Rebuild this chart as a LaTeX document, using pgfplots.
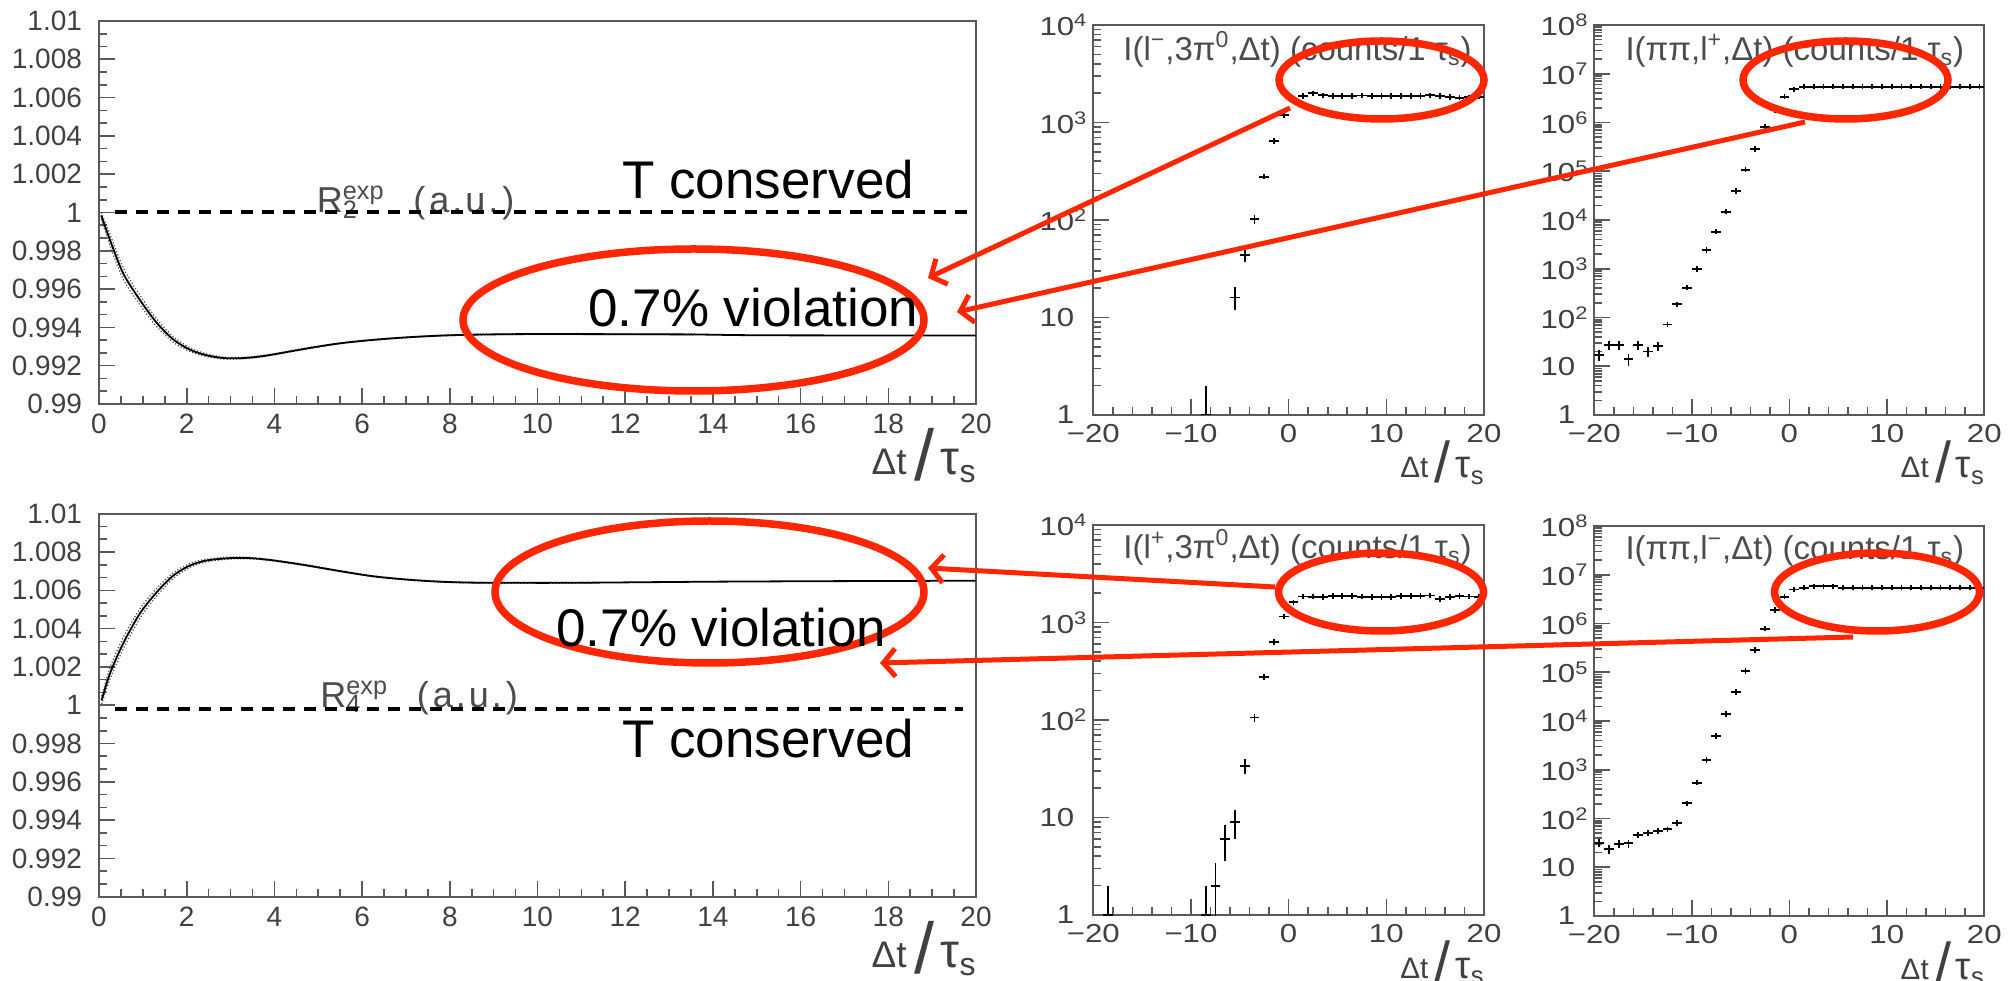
\documentclass[border=0pt]{standalone}
\usepackage{pgfplots}
\pgfplotsset{compat=1.18}
\usepackage{pgfplotstable}
\usepackage{fontspec}
\setmainfont{Liberation Sans}
\newfontfamily\rootw[FakeStretch=1.2]{Liberation Sans}
\usetikzlibrary{arrows.meta}
\definecolor{kred}{RGB}{255,38,0}

% Delta t / tau_s axis label, ROOT style
\newcommand\dtts{{\fontsize{18.5}{18.5}\selectfont Δt}\hspace{4pt}\raisebox{-3pt}{\fontsize{36}{36}\selectfont /}\hspace{3pt}{\fontsize{24}{24}\selectfont τ}\raisebox{-4pt}{\fontsize{16}{16}\selectfont s}}
\newcommand\dttsS{\scalebox{0.8}{\dtts}}
\newcommand\ttl[1]{{\fontsize{16.5}{16.5}\selectfont #1}}
\newcommand\lf{\fontsize{14}{14}\selectfont}
\newcommand\cf{\rootw\fontsize{13}{13}\selectfont}
\newcommand\ex[1]{\cf 10\rlap{\textsuperscript{#1}}}

\pgfplotsset{
  rootframe/.style={scale only axis, clip mode=individual,
    axis line style={black!65,line width=0.9pt},
    tick style={black!65,line width=0.8pt}, tick pos=left, tick align=inside,
    major tick length=8pt, minor tick length=4pt, clip marker paths=true},
  ratioframe/.style={rootframe, width=438.5pt, height=191.5pt,
    xmin=0, xmax=20, ymin=0.99, ymax=1.01,
    xtick={0,2,4,6,8,10,12,14,16,18,20},
    xticklabels={\lf 0,\lf 2,\lf 4,\lf 6,\lf 8,\lf 10,\lf 12,\lf 14,\lf 16,\lf 18,\lf 20},
    minor x tick num=3,
    ytick={0.99,0.992,0.994,0.996,0.998,1,1.002,1.004,1.006,1.008,1.01},
    yticklabels={\lf 0.99,\lf 0.992,\lf 0.994,\lf 0.996,\lf 0.998,\lf 1,\lf 1.002,\lf 1.004,\lf 1.006,\lf 1.008,\lf 1.01},
    minor y tick num=2,
    xticklabel style={text=black!75, yshift=-1.5pt},
    yticklabel style={text=black!75, xshift=-5pt}},
  countframe/.style={rootframe, width=195pt, height=195pt,
    xmin=-20, xmax=20,
    xtick={-20,-10,0,10,20}, xticklabels={\cf −20,\cf −10,\cf 0,\cf 10,\cf 20},
    minor x tick num=4,
    xticklabel style={text=black!75, yshift=-1pt},
    yticklabel style={text=black!75, xshift=-6pt}},
}

% R2 (top left)
\pgfplotstableread{
x y
0.05 0.99985
0.25 0.99857
0.55 0.99683
0.93 0.99544
1.32 0.99423
1.70 0.99336
2.08 0.99283
2.46 0.99254
2.84 0.99240
3.22 0.99239
3.60 0.99246
3.98 0.99259
4.74 0.99290
5.50 0.99317
6.26 0.99335
7.02 0.99348
7.78 0.99357
8.54 0.99362
9.68 0.99365
11.0 0.99365
12.5 0.99364
13.6 0.99363
15.0 0.99359
17.5 0.99358
20.0 0.99358
}\rtwo
\pgfplotstableread{
x lo hi
0.05 0.99965 1.00000
0.25 0.99827 0.99887
0.55 0.99653 0.99713
0.93 0.99519 0.99569
1.32 0.99403 0.99443
1.70 0.99321 0.99351
2.08 0.99273 0.99293
2.46 0.99247 0.99261
2.84 0.99235 0.99245
3.22 0.99235 0.99243
3.60 0.99242 0.99250
3.98 0.99256 0.99262
4.74 0.99287 0.99293
5.50 0.99315 0.99319
6.26 0.99333 0.99337
7.02 0.99346 0.99350
7.78 0.99355 0.99359
8.54 0.99360 0.99364
9.68 0.99363 0.99367
11.0 0.99363 0.99367
12.5 0.99362 0.99366
13.6 0.99361 0.99365
}\rtwoband

% R4 (bottom left)
\pgfplotstableread{
x y
0.06 1.00026
0.25 1.00165
0.55 1.00322
0.93 1.00478
1.32 1.00591
1.70 1.00678
2.08 1.00730
2.46 1.00756
2.99 1.00768
3.44 1.00768
3.98 1.00756
4.74 1.00730
5.50 1.00700
6.26 1.00673
7.02 1.00656
7.78 1.00645
8.54 1.00640
9.68 1.00639
10.5 1.00639
11.3 1.00640
14.0 1.00645
17.0 1.00648
20.0 1.00650
}\rfour
\pgfplotstableread{
x lo hi
0.06 1.00006 1.00046
0.25 1.00135 1.00195
0.55 1.00292 1.00352
0.93 1.00453 1.00503
1.32 1.00571 1.00611
1.70 1.00663 1.00693
2.08 1.00720 1.00740
2.46 1.00749 1.00763
2.99 1.00763 1.00773
3.44 1.00764 1.00772
3.98 1.00753 1.00759
4.74 1.00727 1.00733
5.50 1.00698 1.00702
6.26 1.00671 1.00675
7.02 1.00654 1.00658
7.78 1.00643 1.00647
8.54 1.00638 1.00642
9.68 1.00637 1.00641
10.5 1.00637 1.00641
11.3 1.00638 1.00642
}\rfourband

% I(l-,3pi0) top middle
\pgfplotstableread{
x y ep em
-8.5 1 1 0
-5.5 16 4.5 4.2
-4.5 44 6.6 6.6
-3.5 102 10 10
-2.5 278 17 17
-1.5 646 25 25
-0.5 1194 35 35
0.5 1650 41 41
1.5 1880 43 43
2.5 1990 45 45
3.5 1900 44 44
4.5 1860 43 43
5.5 1880 43 43
6.5 1870 43 43
7.5 1890 43 43
8.5 1875 43 43
9.5 1880 43 43
10.5 1870 43 43
11.5 1860 43 43
12.5 1880 43 43
13.5 1860 43 43
14.5 1900 44 44
15.5 1880 43 43
16.5 1830 43 43
17.5 1800 42 42
18.5 1810 43 43
19.5 1840 43 43
}\tm

% I(l+,3pi0) bottom middle
\pgfplotstableread{
x y ep em
-18.5 1 1 0
-8.5 1 1 0
-7.5 2 1.4 1.4
-6.5 6 2.4 2.4
-5.5 9 3 3
-4.5 34 5.8 5.8
-3.5 106 10 10
-2.5 278 17 17
-1.5 630 25 25
-0.5 1150 34 34
0.5 1610 40 40
1.5 1850 43 43
2.5 1840 43 43
3.5 1820 43 43
4.5 1870 43 43
5.5 1880 43 43
6.5 1870 43 43
7.5 1840 43 43
8.5 1830 43 43
9.5 1820 43 43
10.5 1830 43 43
11.5 1860 43 43
12.5 1880 43 43
13.5 1870 43 43
14.5 1890 43 43
15.5 1750 42 42
16.5 1830 43 43
17.5 1870 43 43
18.5 1850 43 43
19.5 1830 43 43
}\bm

% I(pipi,l+) top right
\pgfplotstableread{
x y ep em
-19.5 17 4.1 4.1
-18.5 27 5.2 5.2
-17.5 27 5.2 5.2
-16.5 14 3.7 3.7
-15.5 27 5.2 5.2
-14.5 20 4.5 4.5
-13.5 26 5.1 5.1
-12.5 72 8.5 8.5
-11.5 186 13.6 13.6
-10.5 409 20.2 20.2
-9.5 988 31.4 31.4
-8.5 2390 48.9 48.9
-7.5 5770 76 76
-6.5 14800 122 122
-5.5 39300 198 198
-4.5 108000 329 329
-3.5 286000 535 535
-2.5 810000 900 900
-1.5 1780000 1334 1334
-0.5 3390000 1841 1841
0.5 4790000 2189 2189
1.5 5430000 2330 2330
2.5 5430000 2330 2330
3.5 5430000 2330 2330
4.5 5430000 2330 2330
5.5 5430000 2330 2330
6.5 5430000 2330 2330
7.5 5430000 2330 2330
8.5 5430000 2330 2330
9.5 5430000 2330 2330
10.5 5430000 2330 2330
11.5 5430000 2330 2330
12.5 5430000 2330 2330
13.5 5430000 2330 2330
14.5 5430000 2330 2330
15.5 5430000 2330 2330
16.5 5430000 2330 2330
17.5 5430000 2330 2330
18.5 5430000 2330 2330
19.5 5430000 2330 2330
}\tr

% I(pipi,l-) bottom right
\pgfplotstableread{
x y ep em
-19.5 32 5.7 5.7
-18.5 24 4.9 4.9
-17.5 30 5.5 5.5
-16.5 31 5.6 5.6
-15.5 46 6.8 6.8
-14.5 51 7.1 7.1
-13.5 56 7.5 7.5
-12.5 60 7.7 7.7
-11.5 80 8.9 8.9
-10.5 205 14.3 14.3
-9.5 543 23 23
-8.5 1585 40 40
-7.5 4925 70 70
-6.5 13900 118 118
-5.5 39300 198 198
-4.5 106000 326 326
-3.5 290000 539 539
-2.5 784000 885 885
-1.5 1890000 1375 1375
-0.5 3550000 1884 1884
0.5 5000000 2236 2236
1.5 5430000 2330 2330
2.5 5780000 2404 2404
3.5 5780000 2404 2404
4.5 5780000 2404 2404
5.5 5430000 2330 2330
6.5 5430000 2330 2330
7.5 5430000 2330 2330
8.5 5430000 2330 2330
9.5 5430000 2330 2330
10.5 5430000 2330 2330
11.5 5430000 2330 2330
12.5 5430000 2330 2330
13.5 5430000 2330 2330
14.5 5430000 2330 2330
15.5 5430000 2330 2330
16.5 5430000 2330 2330
17.5 5430000 2330 2330
18.5 5430000 2330 2330
19.5 5430000 2330 2330
}\br

\begin{document}
\begin{tikzpicture}
\fill[white] (0,0) rectangle (1006.5pt,490pt);
\path[use as bounding box] (0,0) rectangle (1006.5pt,490pt);

% ---- top left: R2
\begin{axis}[ratioframe, at={(49.5pt,288pt)}, anchor=south west]
  \node[anchor=base west, inner sep=0, text=black!70, font=\fontsize{18}{18}\selectfont]
    at (axis cs:4.96,1) {R\rlap{\textsubscript{2}}\textsuperscript{exp}\hspace{0.8em}(\kern2pt a\kern1.5pt.\kern1.5pt u\kern1.5pt.\kern2pt)};
  \addplot[black!70, densely dotted, line width=0.6pt, smooth] table[x=x,y=lo] {\rtwoband};
  \addplot[black!70, densely dotted, line width=0.6pt, smooth] table[x=x,y=hi] {\rtwoband};
  \addplot[black, line width=0.9pt, smooth] table[x=x,y=y] {\rtwo};
  \addplot[black, line width=2pt, dash pattern=on 6.3pt off 4.2pt] coordinates {(0.36,1) (19.85,1)};
  \node[anchor=base east, inner sep=0, yshift=-35.5pt, text=black!75] at (rel axis cs:1,0) {\dtts};
\end{axis}

% ---- bottom left: R4
\begin{axis}[ratioframe, at={(49.5pt,41.65pt)}, anchor=south west]
  \node[anchor=base west, inner sep=0, text=black!70, font=\fontsize{18}{18}\selectfont]
    at (axis cs:5.04,0.9999) {R\rlap{\textsubscript{4}}\textsuperscript{exp}\hspace{0.8em}(\kern2pt a\kern1.5pt.\kern1.5pt u\kern1.5pt.\kern2pt)};
  \addplot[black!70, densely dotted, line width=0.6pt, smooth] table[x=x,y=lo] {\rfourband};
  \addplot[black!70, densely dotted, line width=0.6pt, smooth] table[x=x,y=hi] {\rfourband};
  \addplot[black, line width=0.9pt, smooth] table[x=x,y=y] {\rfour};
  \addplot[black, line width=2pt, dash pattern=on 6.3pt off 4.2pt] coordinates {(0.36,0.99978) (19.7,0.99978)};
  \node[anchor=base east, inner sep=0, yshift=-35.5pt, text=black!75] at (rel axis cs:1,0) {\dtts};
\end{axis}

% ---- top middle
\begin{axis}[countframe, ymode=log, at={(546.65pt,282.5pt)}, anchor=south west, width=195.35pt,
    ymin=1, ymax=1e4, ytick={1,10,100,1000,10000},
    yticklabels={\cf 1,\cf 10,\ex{2},\ex{3},\ex{4}},
    minor ytick={2,3,4,5,6,7,8,9,20,30,40,50,60,70,80,90,200,300,400,500,600,700,800,900,2000,3000,4000,5000,6000,7000,8000,9000}]
  \addplot[only marks, mark=|, mark size=1.4pt, black, mark options={line width=0.9pt},
    error bars/.cd, x dir=both, x fixed=0.5, y dir=both, y explicit,
    error mark=none, error bar style={line width=0.9pt, black}]
    table[x=x,y=y,y error plus=ep,y error minus=em] {\tm};
  \node[anchor=base west, inner sep=0, text=black!70] at (rel axis cs:0.076,0.91)
    {\ttl{I(l\textsuperscript{−},3π\textsuperscript{0},Δt) (counts/1 τ\textsubscript{s})}};
  \node[anchor=base east, inner sep=0, yshift=-31.5pt, text=black!75] at (rel axis cs:1,0) {\dttsS};
\end{axis}

% ---- top right
\begin{axis}[countframe, ymode=log, at={(797.15pt,282.5pt)}, anchor=south west,
    ymin=1, ymax=1e8, ytick={1,10,100,1000,10000,100000,1000000,10000000,100000000},
    yticklabels={\cf 1,\cf 10,\ex{2},\ex{3},\ex{4},\ex{5},\ex{6},\ex{7},\ex{8}},
    minor ytick={2,3,4,5,6,7,8,9,20,30,40,50,60,70,80,90,200,300,400,500,600,700,800,900,2e3,3e3,4e3,5e3,6e3,7e3,8e3,9e3,2e4,3e4,4e4,5e4,6e4,7e4,8e4,9e4,2e5,3e5,4e5,5e5,6e5,7e5,8e5,9e5,2e6,3e6,4e6,5e6,6e6,7e6,8e6,9e6,2e7,3e7,4e7,5e7,6e7,7e7,8e7,9e7}]
  \addplot[only marks, mark=|, mark size=1.4pt, black, mark options={line width=0.9pt},
    error bars/.cd, x dir=both, x fixed=0.5, y dir=both, y explicit,
    error mark=none, error bar style={line width=0.9pt, black}]
    table[x=x,y=y,y error plus=ep,y error minus=em] {\tr};
  \node[anchor=base west, inner sep=0, text=black!70] at (rel axis cs:0.079,0.91)
    {\ttl{I(ππ,l\textsuperscript{+},Δt) (counts/1 τ\textsubscript{s})}};
  \node[anchor=base east, inner sep=0, yshift=-31.5pt, text=black!75] at (rel axis cs:1,0) {\dttsS};
\end{axis}

% ---- bottom middle
\begin{axis}[countframe, ymode=log, at={(546.65pt,32.5pt)}, anchor=south west, width=195.35pt,
    ymin=1, ymax=1e4, ytick={1,10,100,1000,10000},
    yticklabels={\cf 1,\cf 10,\ex{2},\ex{3},\ex{4}},
    minor ytick={2,3,4,5,6,7,8,9,20,30,40,50,60,70,80,90,200,300,400,500,600,700,800,900,2000,3000,4000,5000,6000,7000,8000,9000}]
  \addplot[only marks, mark=|, mark size=1.4pt, black, mark options={line width=0.9pt},
    error bars/.cd, x dir=both, x fixed=0.5, y dir=both, y explicit,
    error mark=none, error bar style={line width=0.9pt, black}]
    table[x=x,y=y,y error plus=ep,y error minus=em] {\bm};
  \node[anchor=base west, inner sep=0, text=black!70] at (rel axis cs:0.076,0.915)
    {\ttl{I(l\textsuperscript{+},3π\textsuperscript{0},Δt) (counts/1 τ\textsubscript{s})}};
  \node[anchor=base east, inner sep=0, yshift=-31.5pt, text=black!75] at (rel axis cs:1,0) {\dttsS};
\end{axis}

% ---- bottom right
\begin{axis}[countframe, ymode=log, at={(797.15pt,32pt)}, anchor=south west,
    ymin=1, ymax=1e8, ytick={1,10,100,1000,10000,100000,1000000,10000000,100000000},
    yticklabels={\cf 1,\cf 10,\ex{2},\ex{3},\ex{4},\ex{5},\ex{6},\ex{7},\ex{8}},
    minor ytick={2,3,4,5,6,7,8,9,20,30,40,50,60,70,80,90,200,300,400,500,600,700,800,900,2e3,3e3,4e3,5e3,6e3,7e3,8e3,9e3,2e4,3e4,4e4,5e4,6e4,7e4,8e4,9e4,2e5,3e5,4e5,5e5,6e5,7e5,8e5,9e5,2e6,3e6,4e6,5e6,6e6,7e6,8e6,9e6,2e7,3e7,4e7,5e7,6e7,7e7,8e7,9e7}]
  \addplot[only marks, mark=|, mark size=1.4pt, black, mark options={line width=0.9pt},
    error bars/.cd, x dir=both, x fixed=0.5, y dir=both, y explicit,
    error mark=none, error bar style={line width=0.9pt, black}]
    table[x=x,y=y,y error plus=ep,y error minus=em] {\br};
  \node[anchor=base west, inner sep=0, text=black!70] at (rel axis cs:0.079,0.915)
    {\ttl{I(ππ,l\textsuperscript{−},Δt) (counts/1 τ\textsubscript{s})}};
  \node[anchor=base east, inner sep=0, yshift=-31.5pt, text=black!75] at (rel axis cs:1,0) {\dttsS};
\end{axis}

% ---- annotations (pixel coordinates of the 2013x980 slide, y downwards)
\begin{scope}[x=0.5pt, y=-0.5pt, yshift=490pt]
  \begin{scope}[kred, line width=3.75pt]
    \draw (693.5,320) ellipse [x radius=230.5, y radius=71];
    \draw (709.5,592) ellipse [x radius=214.5, y radius=71];
    \draw (1381.5,80) ellipse [x radius=102.5, y radius=39];
    \draw (1845.5,80) ellipse [x radius=102.5, y radius=39];
    \draw (1381,592) ellipse [x radius=102.5, y radius=39];
    \draw (1877,592) ellipse [x radius=102.5, y radius=39];
  \end{scope}
  \begin{scope}[kred, line width=2.5pt, -{Straight Barb[length=6pt,width=14pt]}]
    \draw (1290,108) -- (928,278);
    \draw (1805,122) -- (957,312);
    \draw (1275,587) -- (928,568);
    \draw (1853,637) -- (880,663);
  \end{scope}
  \begin{scope}[font=\fontsize{26.5}{26.5}\selectfont, inner sep=0]
    \node[anchor=base west] at (622,199) {T conserved};
    \node[anchor=base west] at (622,758) {T conserved};
    \node[anchor=base west] at (588,327) {0.7\% violation};
    \node[anchor=base west] at (556,647) {0.7\% violation};
  \end{scope}
\end{scope}
\end{tikzpicture}
\end{document}
